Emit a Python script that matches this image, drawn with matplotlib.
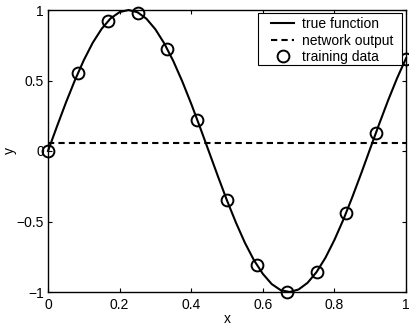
import matplotlib
matplotlib.use("Agg")
import matplotlib.pyplot as plt
from matplotlib.patches import Rectangle

plt.rcParams['font.family'] = ['Liberation Sans', 'DejaVu Sans']

curve_x = [0, 0.025, 0.05, 0.075, 0.1, 0.125, 0.15, 0.175, 0.2, 0.225, 0.25,
           0.275, 0.3, 0.325, 0.35, 0.375, 0.4, 0.425, 0.45, 0.475, 0.5,
           0.525, 0.55, 0.575, 0.6, 0.625, 0.65, 0.675, 0.7, 0.725, 0.75,
           0.775, 0.8, 0.825, 0.85, 0.875, 0.9, 0.925, 0.95, 0.975, 1.0]
curve_y = [0, 0.174, 0.343, 0.501, 0.644, 0.768, 0.867, 0.941, 0.985, 1.000, 0.984,
           0.938, 0.863, 0.762, 0.638, 0.494, 0.335, 0.166, -0.008, -0.182, -0.351,
           -0.508, -0.651, -0.773, -0.871, -0.944, -0.987, -1.000, -0.982, -0.935, -0.859,
           -0.757, -0.631, -0.487, -0.327, -0.158, 0.017, 0.191, 0.359, 0.516, 0.657]

net_x = [0, 1]
net_y = [0.06, 0.06]

train_x = [0, 0.083, 0.167, 0.25, 0.333, 0.417, 0.5, 0.583, 0.667, 0.75, 0.833, 0.917, 1.0]
train_y = [0.0, 0.55, 0.92, 0.98, 0.72, 0.22, -0.35, -0.81, -1.0, -0.86, -0.44, 0.13, 0.65]

xticks = [0, 0.2, 0.4, 0.6, 0.8, 1]
xticklabels = ['0', '0.2', '0.4', '0.6', '0.8', '1']
yticks = [-1, -0.5, 0, 0.5, 1]
yticklabels = ['\u22121', '\u22120.5', '0', '0.5', '1']

fig = plt.figure(figsize=(4.09, 3.25), dpi=100)
ax = fig.add_axes([48 / 409, 33 / 325, 358 / 409, 282 / 325])

ax.plot(curve_x, curve_y, color='black', lw=1.5, label='true function', clip_on=False, zorder=2)
ax.plot(net_x, net_y, color='black', lw=1.5, ls=(0, (3, 2)), label='network output',
        clip_on=False, zorder=2)
ax.plot(train_x, train_y, ls='none', marker='o', mfc='none', mec='black', ms=8.5, mew=1.4,
        label='training data', clip_on=False, zorder=3)

ax.set_xlim(0, 1)
ax.set_ylim(-1, 1)
ax.set_xticks(xticks)
ax.set_xticklabels(xticklabels)
ax.set_yticks(yticks)
ax.set_yticklabels(yticklabels)
ax.tick_params(direction='in', length=3, width=0.8, labelsize=10, top=True, right=True)
ax.tick_params(axis='x', pad=4)
ax.tick_params(axis='y', pad=3)
for s in ax.spines.values():
    s.set_linewidth(1.0)
ax.set_xlabel('x', fontsize=10, labelpad=0)
ax.set_ylabel('y', fontsize=10)
ax.yaxis.set_label_coords(-0.087, 0.5)

# legend box (drawn separately to get MATLAB-like padding)
box = Rectangle((0.5866, 0.805), 0.4022, 0.184, transform=ax.transAxes,
                facecolor='white', edgecolor='black', lw=0.8, zorder=9, clip_on=False)
ax.add_patch(box)
leg = ax.legend(loc='upper right', bbox_to_anchor=(0.9637, 0.975), fontsize=10,
                frameon=False, borderaxespad=0, handlelength=1.65,
                handletextpad=0.55, labelspacing=0.18, borderpad=0)
leg.set_zorder(10)

fig.savefig('out.png', dpi=100)
